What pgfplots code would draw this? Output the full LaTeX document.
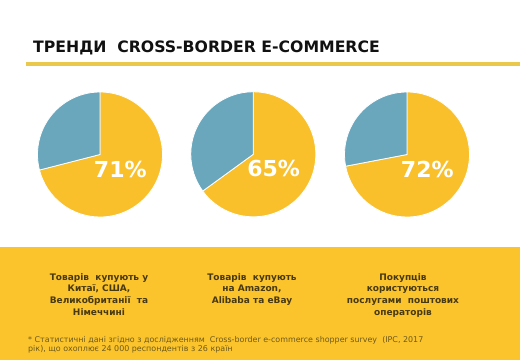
\documentclass[border=0pt]{standalone}
\usepackage{pgfplots}
\pgfplotsset{compat=1.18}
\usepackage{pgfplotstable}
\usepackage{fontspec}
\setmainfont{DejaVu Sans}
\definecolor{bandyellow}{HTML}{FBC42C}
\definecolor{pieyellow}{HTML}{F9C02C}
\definecolor{pieblue}{HTML}{6AA6BC}
\definecolor{lineyellow}{HTML}{EAC84C}
\definecolor{captext}{HTML}{473911}
\definecolor{foottext}{HTML}{6E5A1A}
\definecolor{titletext}{HTML}{111111}

\pgfplotstableread{
id value
A 71
B 65
C 72
}\piedata

\newcommand\pie[3]{% #1 row, #2 x center, #3 y center (tikz pt)
  \pgfplotstablegetelem{#1}{value}\of\piedata
  \edef\pv{\pgfplotsretval}%
  \begin{axis}[at={(#2pt,#3pt)}, anchor=center, width=130pt, height=130pt,
    scale only axis, xmin=-1.04, xmax=1.04, ymin=-1.04, ymax=1.04, hide axis]
    \addplot[draw=none] coordinates {(0,0)};
    \fill[pieyellow, draw=white, line width=0.8pt] (axis cs:0,0) -- (axis cs:0,1)
      arc[start angle=90, end angle={90-3.6*\pv}, radius=62.5pt] -- cycle;
    \fill[pieblue, draw=white, line width=0.8pt] (axis cs:0,0) -- (axis cs:0,1)
      arc[start angle=90, end angle={90+3.6*(100-\pv)}, radius=62.5pt] -- cycle;
    \node[anchor=west, text=white, font=\fontsize{22}{25}\selectfont\bfseries, inner sep=0pt]
      at (axis cs:-0.1,-0.232) {\pv\%};
  \end{axis}}

\begin{document}
\begin{tikzpicture}[x=1pt,y=1pt]
\path[use as bounding box] (0,0) rectangle (520,360);
\fill[white] (0,0) rectangle (520,360);
\fill[bandyellow] (0,0) rectangle (520,113);
% title
\node[anchor=base west, inner sep=0pt, text=titletext, font=\fontsize{15.7}{19}\selectfont\bfseries]
  at (33,307.3) {ТРЕНДИ\ \ CROSS-BORDER E-COMMERCE};
\draw[lineyellow, line width=3.5pt] (26,295.8) -- (520,295.8);
% pies
\pie{0}{100}{205.5}
\pie{1}{253.3}{205.7}
\pie{2}{407}{205.5}
% captions
\begin{scope}[every node/.style={anchor=north, align=center, inner sep=0pt, text=captext,
   font=\fontsize{9}{11.7}\selectfont\bfseries}]
\node at (99,87) {Товарів\ \ купують у\\Китаї, США,\\Великобританії\ \ та\\Німеччині};
\node at (252,87) {Товарів\ \ купують\\на Amazon,\\Alibaba та eBay};
\node at (403,87) {Покупців\\користуються\\послугами\ \ поштових\\операторів};
\end{scope}
\node[anchor=north west, align=left, inner sep=0pt, text=foottext, font=\fontsize{7.95}{9.6}\selectfont]
  at (28,24) {* Статистичні дані згідно з дослідженням\ \ Cross-border e-commerce shopper survey\ \ (IPC, 2017\\рік), що охоплює 24 000 респондентів з 26 країн};
\end{tikzpicture}
\end{document}
